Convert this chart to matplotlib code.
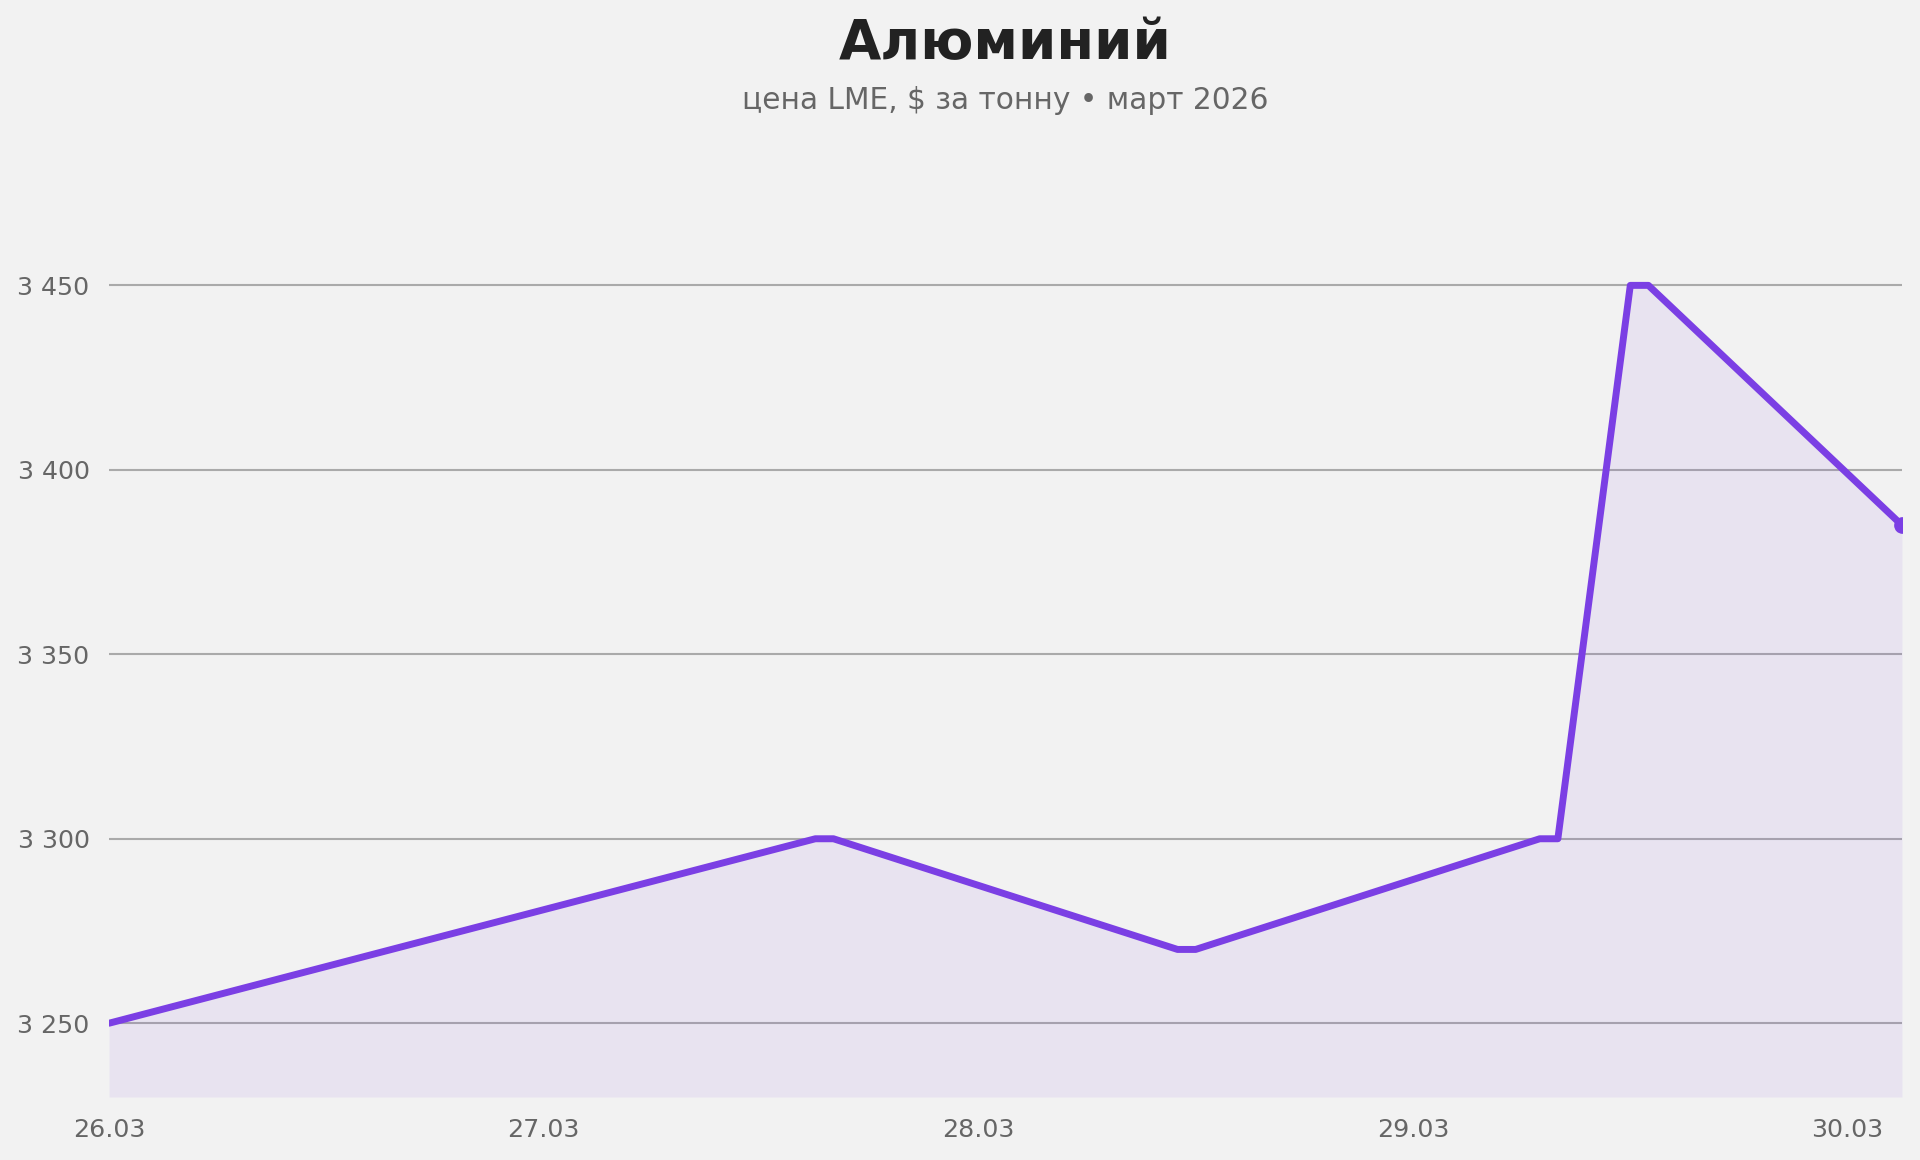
import matplotlib
matplotlib.use("Agg")
import matplotlib.pyplot as plt
import matplotlib.dates as mdates
import matplotlib.ticker as mticker
import pandas as pd

# LME aluminium price, hourly readings
times = ["2026-03-26 00:00", "2026-03-27 15:00", "2026-03-27 16:00",
         "2026-03-28 11:00", "2026-03-28 12:00", "2026-03-29 07:00",
         "2026-03-29 08:00", "2026-03-29 12:00", "2026-03-29 13:00",
         "2026-03-30 03:00"]
prices = [3250, 3300, 3300, 3270, 3270, 3300, 3300, 3450, 3450, 3385]
day_ticks = ["2026-03-26", "2026-03-27", "2026-03-28", "2026-03-29", "2026-03-30"]
y_ticks = [3250, 3300, 3350, 3400, 3450]

title = "Алюминий"
subtitle = "цена LME, $ за тонну • март 2026"

line_color = "#7b3fe4"
bg = "#f2f2f2"

x = pd.to_datetime(times)
ymin, ymax = 3230, 3470

fig = plt.figure(figsize=(19.2, 11.6), dpi=100, facecolor=bg)
ax = fig.add_axes([0.0568, 0.0543, 0.9338, 0.7633])
ax.set_facecolor(bg)

ax.fill_between(x, prices, ymin, color=line_color, alpha=0.08, linewidth=0, zorder=2)
ax.plot(x, prices, color=line_color, lw=5, solid_joinstyle="round",
        solid_capstyle="round", zorder=3)
ax.plot(x[-1:], prices[-1:], "o", color=line_color, markersize=11, zorder=4)

ax.set_xlim(x[0], x[-1])
ax.set_ylim(ymin, ymax)
ax.set_xticks(pd.to_datetime(day_ticks))
ax.xaxis.set_major_formatter(mdates.DateFormatter("%d.%m"))
ax.set_yticks(y_ticks)
ax.yaxis.set_major_formatter(mticker.FuncFormatter(lambda v, p: f"{int(v):,}".replace(",", " ")))

ax.grid(axis="y", color="#aaaaaa", lw=1.5, zorder=1)
ax.grid(axis="x", visible=False)
for s in ax.spines.values():
    s.set_visible(False)
ax.tick_params(length=0, labelsize=18.2, labelcolor="#666666")
ax.tick_params(axis="y", pad=14)
ax.tick_params(axis="x", pad=15)

fig.text(0.5236, 0.949, title, ha="center", va="baseline", fontsize=39.3,
         fontweight="bold", color="#222222")
fig.text(0.5236, 0.906, subtitle, ha="center", va="baseline", fontsize=21.3,
         color="#666666")

fig.savefig("out.png", dpi=100, facecolor=bg)
